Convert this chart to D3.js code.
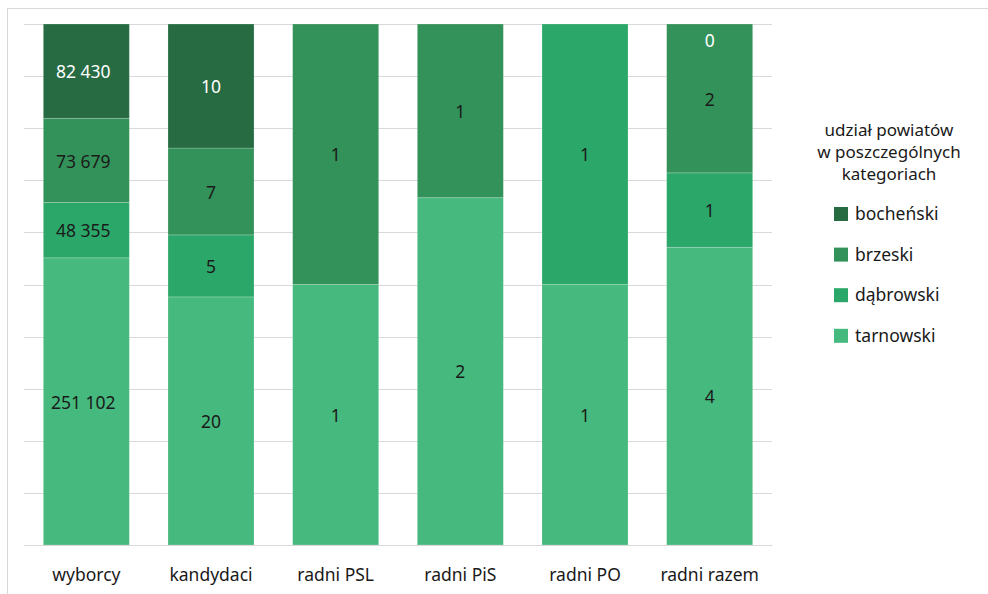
<!DOCTYPE html>
<html><head><meta charset="utf-8">
<script src="https://cdn.jsdelivr.net/npm/d3@7"></script>
<style>body{margin:0;background:#fff;} text{font-family:"Noto Sans","Open Sans",sans-serif;}</style>
</head><body>
<svg id="c" width="988" height="594"></svg>
<script>
const categories = ["wyborcy","kandydaci","radni PSL","radni PiS","radni PO","radni razem"];
const seriesNames = ["tarnowski","dąbrowski","brzeski","bocheński"];
const tarnowski = [251102, 20, 1, 2, 1, 4];
const dabrowski = [48355, 5, 0, 0, 1, 1];
const brzeski   = [73679, 7, 1, 1, 0, 2];
const bochenski = [82430, 10, 0, 0, 0, 0];
const seriesColors = ["#46b97e","#2ca76a","#339259","#276b43"];
const labelColors = ["#1a1a1a","#1a1a1a","#1a1a1a","#ffffff"];
const legendTitle = ["udział powiatów","w poszczególnych","kategoriach"];
const showLabel = [
  [true,true,true,true,true,true],
  [true,true,false,false,true,true],
  [true,true,true,true,false,true],
  [true,true,false,false,false,true]
];

const values = [tarnowski, dabrowski, brzeski, bochenski];
const rows = categories.map((c,i)=>{
  const r = {cat:c};
  seriesNames.forEach((s,k)=>r[s]=values[k][i]);
  return r;
});
const stacked = d3.stack().keys(seriesNames).offset(d3.stackOffsetExpand)(rows);

const svg = d3.select("#c");
const fmt = v => d3.format(",")(v).replace(/,/g," ");
const FS = 17.5;

svg.append("rect").attr("x",7.5).attr("y",8.5).attr("width",1000).attr("height",700)
  .attr("fill","none").attr("stroke","#d9d9d9");

const x = d3.scaleBand().domain(categories).range([24,772]).paddingInner(0.31).paddingOuter(0.155);
const y = d3.scaleLinear().domain([0,1]).range([545,24]);

svg.append("g").selectAll("line").data(d3.range(0,1.0001,0.1)).join("line")
  .attr("x1",24).attr("x2",772).attr("y1",d=>Math.round(y(d))+0.5).attr("y2",d=>Math.round(y(d))+0.5)
  .attr("stroke","#d9d9d9").attr("stroke-width",1);

const g = svg.append("g");
stacked.forEach((layer,k)=>{
  g.append("g").selectAll("rect").data(layer).join("rect")
    .attr("x",d=>x(d.data.cat)).attr("width",x.bandwidth())
    .attr("y",d=>y(d[1])).attr("height",d=>Math.max(0,y(d[0])-y(d[1])))
    .attr("fill",seriesColors[k])
    .attr("stroke","rgba(255,255,255,0.25)").attr("stroke-width",0.8);
});
stacked.forEach((layer,k)=>{
  g.append("g").selectAll("text").data(layer.filter((d,i)=>showLabel[k][i])).join("text")
    .attr("x",d=>x(d.data.cat)+x.bandwidth()/2 - (d.data.cat==="wyborcy"?3:0))
    .attr("y",d=>{
      const h = y(d[0])-y(d[1]);
      return h>0 ? (y(d[0])+y(d[1]))/2 + 1 : y(d[1])+17;
    })
    .attr("dy","0.35em").attr("text-anchor","middle")
    .attr("font-size",FS).attr("fill",labelColors[k])
    .text(d=>fmt(d.data[layer.key]));
});

const xa = svg.append("g").attr("transform","translate(0,545)").call(d3.axisBottom(x).tickSize(0).tickPadding(24));
xa.select(".domain").attr("stroke","#d9d9d9");
xa.selectAll("text").attr("font-size",FS).attr("fill","#1a1a1a").attr("font-family","Noto Sans, Open Sans, sans-serif");

const lg = svg.append("g");
lg.selectAll("text.t").data(legendTitle).join("text").attr("class","t")
  .attr("x",889).attr("y",(d,i)=>130+i*22).attr("dy","0.35em").attr("text-anchor","middle")
  .attr("font-size",17).attr("fill","#1a1a1a").text(d=>d);
const legOrder = [3,2,1,0];
const li = lg.selectAll("g.i").data(legOrder).join("g").attr("class","i")
  .attr("transform",(d,i)=>`translate(834,${214+i*40.6})`);
li.append("rect").attr("x",0).attr("y",-7).attr("width",14).attr("height",14).attr("fill",d=>seriesColors[d]);
li.append("text").attr("x",21).attr("y",0).attr("dy","0.35em").attr("font-size",FS).attr("fill","#1a1a1a").text(d=>seriesNames[d]);
</script>
</body></html>
